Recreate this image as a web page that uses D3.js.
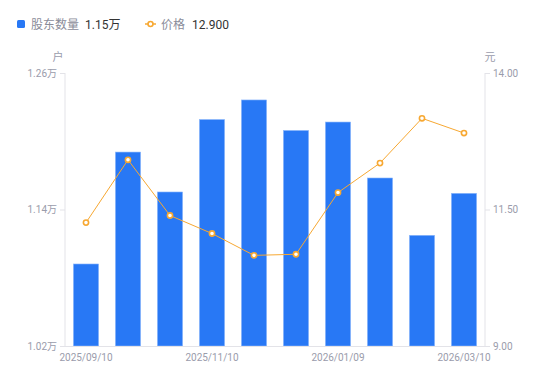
<!DOCTYPE html>
<html><head><meta charset="utf-8">
<script src="https://cdn.jsdelivr.net/npm/d3@7"></script>
<style>body{margin:0;background:#fff;}svg{display:block;font-family:"Noto Sans CJK SC","Noto Sans",sans-serif;}</style>
</head><body><svg id="c" width="550" height="381"></svg>
<script>
const dates = ["2025/09/10","2025/09/30","2025/10/20","2025/11/10","2025/11/28","2025/12/19","2026/01/09","2026/01/30","2026/02/13","2026/03/10"];
const holders = [10921, 11905, 11554, 12191, 12363, 12095, 12169, 11677, 11173, 11542];
const prices = [11.26, 12.41, 11.39, 11.06, 10.66, 10.68, 11.81, 12.35, 13.17, 12.90];
const leftTicks = [10200, 11400, 12600];
const rightTicks = [9.00, 11.50, 14.00];
const shownDates = ["2025/09/10","2025/11/10","2026/01/09","2026/03/10"];

const svg = d3.select("#c");
const L = 65, R = 485, T = 73, B = 346;
const x = d3.scaleBand().domain(dates).range([L, R]).paddingInner(0.4).paddingOuter(0.2);
const yL = d3.scaleLinear().domain([10200, 12600]).range([B, T]);
const yR = d3.scaleLinear().domain([9, 14]).range([B, T]);
const gray = "#9a9cab", axisCol = "#e3e3e8";
const blue = "#2878f5", orange = "#f7a832";

svg.append("line").attr("x1",L).attr("x2",L).attr("y1",T).attr("y2",B).attr("stroke",axisCol);
svg.append("line").attr("x1",R).attr("x2",R).attr("y1",T).attr("y2",B).attr("stroke",axisCol);

const la = d3.axisLeft(yL).tickValues(leftTicks).tickSize(5).tickPadding(3).tickFormat(d => (d/10000).toFixed(2) + "万");
const gl = svg.append("g").attr("transform",`translate(${L},0)`).call(la);
const ra = d3.axisRight(yR).tickValues(rightTicks).tickSize(5).tickPadding(3).tickFormat(d => d.toFixed(2));
const gr = svg.append("g").attr("transform",`translate(${R},0)`).call(ra);
[gl, gr].forEach(g => {
  g.select(".domain").remove();
  g.selectAll(".tick line").attr("stroke", axisCol);
  g.selectAll(".tick text").attr("fill", gray).attr("font-size", 10).attr("font-family","Roboto, 'Noto Sans CJK SC', sans-serif");
});

svg.append("g").selectAll("rect").data(dates).join("rect")
  .attr("x", d => x(d)).attr("width", x.bandwidth())
  .attr("y", (d,i) => yL(holders[i])).attr("height", (d,i) => B - yL(holders[i]))
  .attr("fill", blue).attr("stroke", "#8db8fb").attr("stroke-width", 0.6);

svg.append("line").attr("x1",L).attr("x2",R).attr("y1",B+0.5).attr("y2",B+0.5).attr("stroke",axisCol);
const ba = d3.axisBottom(x).tickValues(shownDates).tickSize(0).tickPadding(8);
const gb = svg.append("g").attr("transform",`translate(0,${B})`).call(ba);
gb.select(".domain").remove();
gb.selectAll(".tick text").attr("fill", gray).attr("font-size", 10).attr("font-family","Roboto, sans-serif");

const cx = d => x(d) + x.bandwidth()/2;
const line = d3.line().x((d,i) => cx(dates[i])).y(d => yR(d));
svg.append("path").datum(prices).attr("d", line).attr("fill","none").attr("stroke", orange).attr("stroke-width", 1);
svg.append("g").selectAll("circle").data(prices).join("circle")
  .attr("cx", (d,i) => cx(dates[i])).attr("cy", d => yR(d)).attr("r", 2.6)
  .attr("fill", "#fff").attr("stroke", orange).attr("stroke-width", 1.6);

svg.append("text").attr("x", 58).attr("y", 61).attr("text-anchor","middle").attr("fill", gray).attr("font-size", 11).text("户");
svg.append("text").attr("x", 490).attr("y", 61).attr("text-anchor","middle").attr("fill", gray).attr("font-size", 11).text("元");

const lg = svg.append("g");
lg.append("rect").attr("x",17).attr("y",20).attr("width",8).attr("height",8).attr("rx",1.5).attr("fill",blue);
lg.append("text").attr("x",31).attr("y",28.5).attr("fill","#8a8c99").attr("font-size",12).text("股东数量");
lg.append("text").attr("x",85).attr("y",28.5).attr("fill","#333").attr("font-size",12).attr("font-family","Roboto, 'Noto Sans CJK SC', sans-serif").text((holders[holders.length-1]/10000).toFixed(2) + "万");
lg.append("line").attr("x1",145).attr("x2",156).attr("y1",24).attr("y2",24).attr("stroke",orange).attr("stroke-width",1.5);
lg.append("circle").attr("cx",150.5).attr("cy",24).attr("r",2.5).attr("fill","#fff").attr("stroke",orange).attr("stroke-width",1.6);
lg.append("text").attr("x",161).attr("y",28.5).attr("fill","#8a8c99").attr("font-size",12).text("价格");
lg.append("text").attr("x",192).attr("y",28.5).attr("fill","#333").attr("font-size",12).attr("font-family","Roboto, sans-serif").text(prices[prices.length-1].toFixed(3));
</script></body></html>
